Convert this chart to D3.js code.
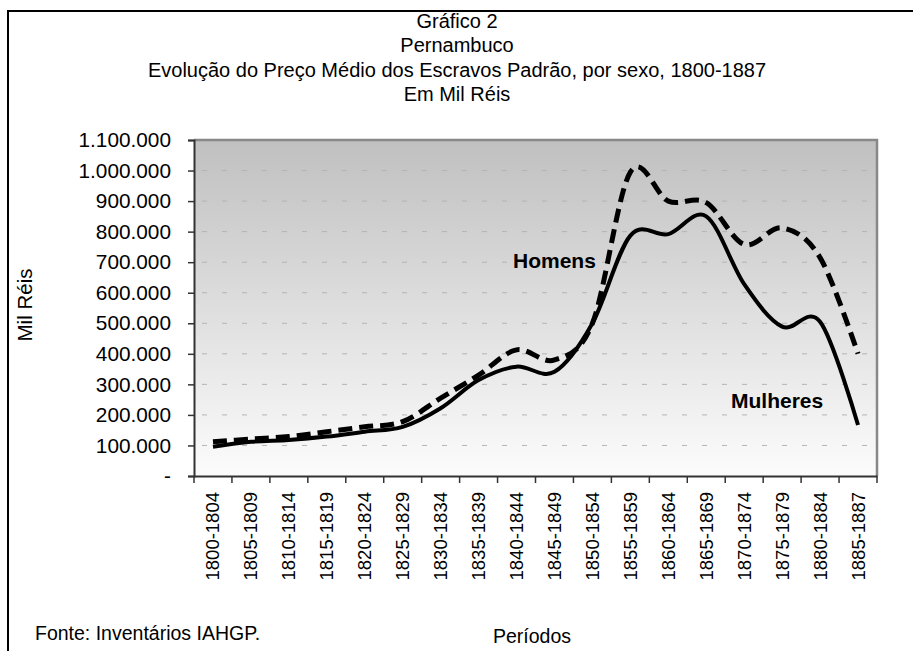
<!DOCTYPE html>
<html>
<head>
<meta charset="utf-8">
<script src="https://cdn.jsdelivr.net/npm/d3@7"></script>
<style>
  body { margin: 0; background: #fff; }
  svg { font-family: "Liberation Sans", Arial, sans-serif; }
</style>
</head>
<body>
<svg width="913" height="651"></svg>
<script>
// periods on the x axis
var periods = ["1800-1804", "1805-1809", "1810-1814", "1815-1819", "1820-1824", "1825-1829",
  "1830-1834", "1835-1839", "1840-1844", "1845-1849", "1850-1854", "1855-1859",
  "1860-1864", "1865-1869", "1870-1874", "1875-1879", "1880-1884", "1885-1887"];

// preco medio, mil reis
var homens = [112000, 121000, 129000, 145000, 161000, 178000, 255000, 330000, 413000,
  380000, 500000, 995000, 900000, 895000, 758000, 812000, 715000, 400000];
var mulheres = [96000, 112000, 118000, 129000, 145000, 161000, 222000, 314000, 358000,
  341000, 500000, 787000, 792000, 850000, 628000, 489000, 505000, 167000];

var yTicks = [0, 100000, 200000, 300000, 400000, 500000, 600000, 700000, 800000,
  900000, 1000000, 1100000];

var titleLines = ["Gráfico 2", "Pernambuco",
  "Evolução do Preço Médio dos Escravos Padrão, por sexo, 1800-1887", "Em Mil Réis"];

function drawChart() {
  var svg = d3.select("svg");

  var pL = 194, pR = 877, pT = 140, pB = 476;

  var x = d3.scaleBand().domain(periods).range([pL, pR]).padding(0);
  var y = d3.scaleLinear().domain([0, 1100000]).range([pB, pT]);

  var br = d3.formatLocale({decimal: ",", thousands: ".", grouping: [3], currency: ["", ""]});
  var fmt = br.format(",");

  // outer frame (only top and left visible)
  svg.append("path")
    .attr("d", "M8,651 V11 H913")
    .attr("fill", "none").attr("stroke", "#000").attr("stroke-width", 2);

  // title
  svg.append("g").selectAll("text")
    .data(titleLines).enter().append("text")
    .attr("x", 457).attr("y", function(d, i) { return 28 + i * 24.3; })
    .attr("text-anchor", "middle")
    .attr("font-size", 20)
    .text(function(d) { return d; });

  // plot background gradient
  var grad = svg.append("defs").append("linearGradient")
    .attr("id", "bg").attr("x1", 0).attr("y1", 0).attr("x2", 0).attr("y2", 1);
  grad.append("stop").attr("offset", "0%").attr("stop-color", "#c0c0c0");
  grad.append("stop").attr("offset", "100%").attr("stop-color", "#fcfcfc");

  svg.append("rect")
    .attr("x", pL).attr("y", pT)
    .attr("width", pR - pL).attr("height", pB - pT)
    .attr("fill", "url(#bg)");

  // gridlines
  svg.append("g").selectAll("line")
    .data(yTicks.filter(function(d) { return d > 0 && d < 1100000; }))
    .enter().append("line")
    .attr("x1", pL + 8).attr("x2", pR)
    .attr("y1", function(d) { return y(d); })
    .attr("y2", function(d) { return y(d); })
    .attr("stroke", "#b4b4b4").attr("stroke-width", 1)
    .attr("stroke-dasharray", "5,15");

  // plot border top/right
  svg.append("path")
    .attr("d", "M" + pL + "," + pT + " H" + pR + " V" + pB)
    .attr("fill", "none").attr("stroke", "#888").attr("stroke-width", 2.5);

  // y axis
  var yAxis = d3.axisLeft(y).tickValues(yTicks).tickSize(6).tickPadding(17)
    .tickFormat(function(d) { return d === 0 ? "-" : fmt(d); });
  var gy = svg.append("g").attr("transform", "translate(" + pL + ",0)").call(yAxis);
  gy.select(".domain").attr("stroke", "#333").attr("stroke-width", 2);
  gy.selectAll(".tick line").attr("stroke", "#333").attr("stroke-width", 1.5);
  gy.selectAll(".tick text").attr("font-size", 20.8).attr("fill", "#000")
    .attr("font-family", "Liberation Sans, Arial, sans-serif");

  // x axis, ticks between categories
  var xAxis = d3.axisBottom(x).tickSize(0).tickFormat("");
  var gx = svg.append("g").attr("transform", "translate(0," + pB + ")").call(xAxis);
  gx.select(".domain").attr("stroke", "#333").attr("stroke-width", 2);
  gx.selectAll(".sep").data(periods.concat(["end"])).enter().append("line")
    .attr("class", "sep")
    .attr("x1", function(d, i) { return pL + i * x.bandwidth(); })
    .attr("x2", function(d, i) { return pL + i * x.bandwidth(); })
    .attr("y1", 0).attr("y2", 7)
    .attr("stroke", "#333").attr("stroke-width", 1.5);
  gx.selectAll(".lbl").data(periods).enter().append("text")
    .attr("class", "lbl")
    .attr("transform", function(d) {
      return "translate(" + (x(d) + x.bandwidth() / 2 + 6.5) + ",16) rotate(-90)";
    })
    .attr("text-anchor", "end")
    .attr("font-size", 18.5)
    .attr("font-family", "Liberation Sans, Arial, sans-serif")
    .attr("fill", "#000")
    .text(function(d) { return d; });

  // lines
  var line = d3.line()
    .x(function(d, i) { return x(periods[i]) + x.bandwidth() / 2; })
    .y(function(d) { return y(d); })
    .curve(d3.curveCardinal.tension(0));

  svg.append("path").datum(homens)
    .attr("d", line)
    .attr("fill", "none").attr("stroke", "#000").attr("stroke-width", 5)
    .attr("stroke-dasharray", "14,7");

  svg.append("path").datum(mulheres)
    .attr("d", line)
    .attr("fill", "none").attr("stroke", "#000").attr("stroke-width", 4);

  // series labels
  svg.append("text").attr("x", 513).attr("y", 268)
    .attr("font-size", 21).attr("font-weight", "bold").text("Homens");
  svg.append("text").attr("x", 731).attr("y", 408)
    .attr("font-size", 21).attr("font-weight", "bold").text("Mulheres");

  // axis titles and source
  svg.append("text")
    .attr("transform", "translate(32,305) rotate(-90)")
    .attr("text-anchor", "middle").attr("font-size", 20.5).text("Mil Réis");
  svg.append("text").attr("x", 532).attr("y", 643)
    .attr("text-anchor", "middle").attr("font-size", 19.5).text("Períodos");
  svg.append("text").attr("x", 35).attr("y", 640)
    .attr("font-size", 19.5).text("Fonte: Inventários IAHGP.");
}

drawChart();
</script>
</body>
</html>
